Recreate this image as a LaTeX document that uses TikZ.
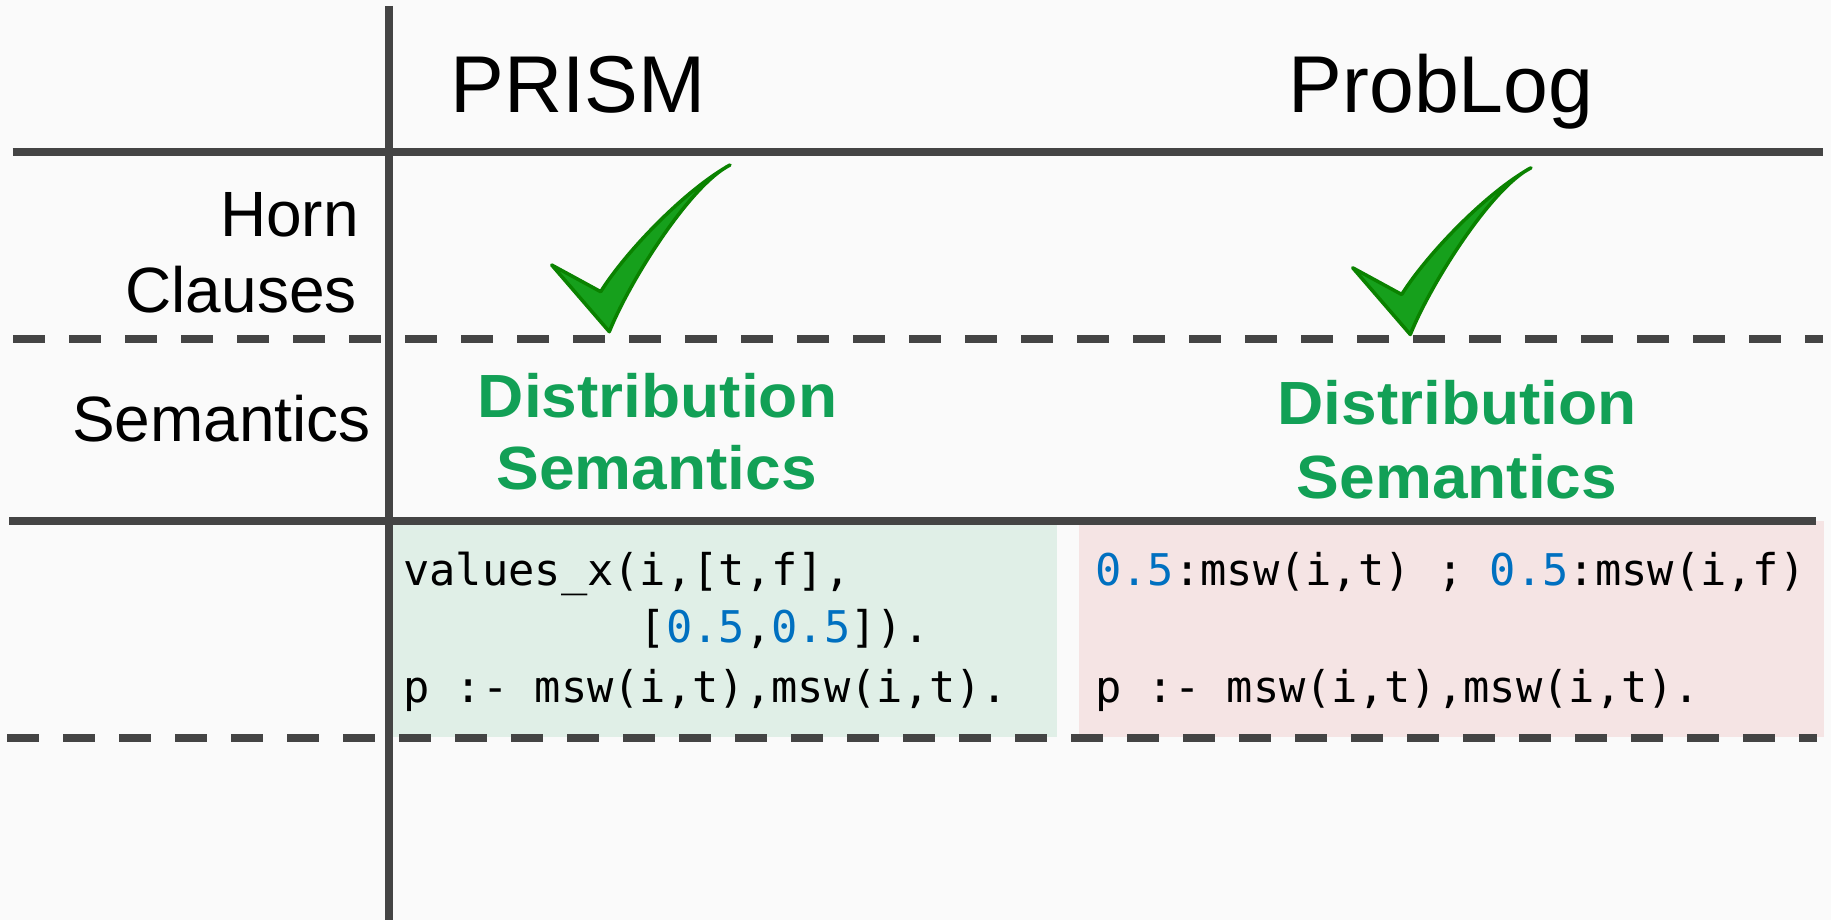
\documentclass[tikz,border=0pt]{standalone}
\usepackage{fontspec}
\setmainfont{Liberation Sans}
\newfontfamily\codefont{DejaVu Sans Mono}
\newfontfamily\distfont[FakeStretch=1.05]{Liberation Sans Bold}

\definecolor{bgcol}{HTML}{FAFAFA}
\definecolor{rulegray}{HTML}{444444}
\definecolor{greenbox}{HTML}{E0EFE7}
\definecolor{pinkbox}{HTML}{F5E4E4}
\definecolor{distgreen}{HTML}{12A056}
\definecolor{numblue}{HTML}{0070C0}
\definecolor{tickfill}{HTML}{16A01C}
\definecolor{tickdark}{HTML}{0A8200}

\newcommand{\numtxt}[1]{\textcolor{numblue}{#1}}

\tikzset{
  checkmark/.pic={
    \path[tick] (0,0) -- (-57.6,-66.7) -- (-8.6,-40)
      .. controls (16.4,-80) and (75.7,-141.7) .. (120.7,-166.7)
      .. controls (80.7,-146.7) and (20,-50) .. cycle;
  }
}

\begin{document}
\begin{tikzpicture}[x=1pt,y=-1pt,
  rule/.style={draw=rulegray,line width=8pt},
  dashrule/.style={rule,dash pattern=on 32pt off 24pt},
  title/.style={inner sep=0pt,anchor=base,font=\fontsize{80.6}{90}\selectfont},
  rowlabel/.style={inner sep=0pt,anchor=base east,font=\fontsize{64}{72}\selectfont},
  semlabel/.style={inner sep=0pt,anchor=base,text=distgreen,font=\distfont\fontsize{61}{70}\selectfont},
  code/.style={inner sep=0pt,anchor=base west,font=\codefont\fontsize{43.7}{50}\selectfont},
  tick/.style={draw=tickdark,fill=tickfill,line width=3.5pt,line join=round}
]
% canvas
\fill[bgcol] (0,0) rectangle (1831,920);
\useasboundingbox (0,0) rectangle (1831,920);

% shaded code cells
\fill[greenbox] (392,521) rectangle (1057,737);
\fill[pinkbox] (1079,521) rectangle (1824,737);

% table rules
\draw[rule] (12.7,152) -- (1822.7,152);
\draw[dashrule] (13,338.5) -- (1823,338.5);
\draw[rule] (9,521) -- (1816,521);
\draw[dashrule] (7.3,737.5) -- (1817,737.5);
\draw[rule] (388.5,6) -- (388.5,920);

% column headers
\node[title] (prism) at (578,112.7) {PRISM};
\node[title] (problog) at (1441,112.7) {ProbLog};

% row labels
\node[rowlabel] (horn) at (359,236.7) {Horn};
\node[rowlabel] (clauses) at (357,312.7) {Clauses};
\node[rowlabel] (semrow) at (371,441.5) {Semantics};

% Horn clause ticks
\pic at (609.3,331.7) {checkmark};
\pic at (1410.3,334.5) {checkmark};

% semantics entries
\node[semlabel] (distA) at (657.5,417.3) {Distribution};
\node[semlabel] (semA) at (656.5,489.7) {Semantics};
\node[semlabel] (distB) at (1457,424) {Distribution};
\node[semlabel] (semB) at (1457,498) {Semantics};

% PRISM code
\node[code] (g1) at (403,585) {values\_x(i,[t,f],};
\node[code] (g2) at (403,642.5) {\phantom{values\_x(}[\numtxt{0.5},\numtxt{0.5}]).};
\node[code] (g3) at (403,702) {p :- msw(i,t),msw(i,t).};

% ProbLog code
\node[code] (p1) at (1095,585) {\numtxt{0.5}:msw(i,t) ; \numtxt{0.5}:msw(i,f)};
\node[code] (p2) at (1095,702) {p :- msw(i,t),msw(i,t).};
\end{tikzpicture}
\end{document}
